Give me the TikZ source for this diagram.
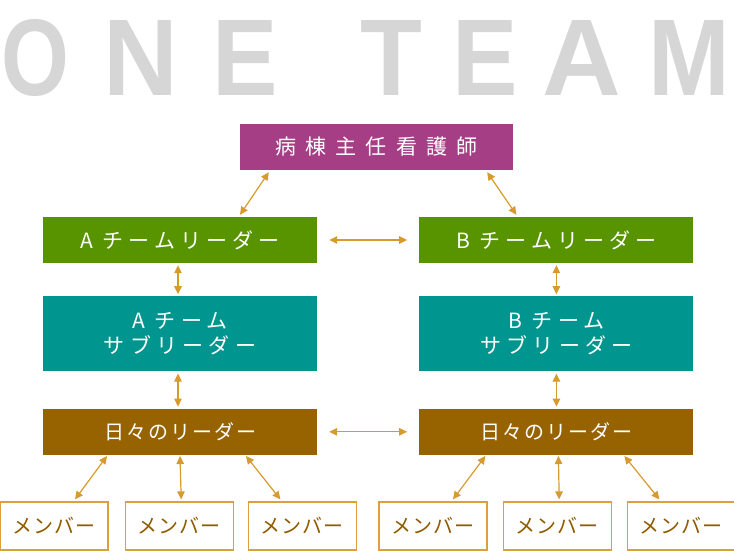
\documentclass[tikz,border=0pt]{standalone}
\usepackage{fontspec}
\usepackage{tikz}
\usetikzlibrary{arrows.meta, positioning}
\newfontfamily\jpfont{Noto Sans CJK JP}
\newfontfamily\titlefont{Liberation Sans Bold}
\definecolor{chiefcol}{HTML}{A53E84}
\definecolor{leadcol}{HTML}{589400}
\definecolor{subcol}{HTML}{00968F}
\definecolor{dailycol}{HTML}{966300}
\definecolor{linkcol}{HTML}{D69A2D}
\definecolor{membcol}{HTML}{DCA03C}
\definecolor{membtext}{HTML}{8F5C00}
\definecolor{titlegray}{HTML}{D6D6D6}

\begin{document}
\begin{tikzpicture}[x=1pt, y=-1pt,
    titlechar/.style={anchor=base, inner sep=0pt, text=titlegray, font=\titlefont\fontsize{109}{109}\selectfont},
    box/.style={rectangle, inner sep=0pt, minimum width=274pt, minimum height=46pt, align=center, text=white},
    member/.style={rectangle, draw=membcol, line width=1.2pt, fill=white, inner sep=0pt, minimum width=108pt, minimum height=48pt, text=membtext, font=\jpfont\fontsize{20}{22}\selectfont\addfontfeature{LetterSpace=5}},
    link/.style={{Triangle[length=8pt, width=7.5pt]}-{Triangle[length=8pt, width=7.5pt]}, draw=linkcol, line width=1.2pt}
]
\useasboundingbox (0,0) rectangle (734,550);

% title
\foreach \ch/\cx/\sx [count=\i] in {O/35/0.8, N/141/0.95, E/245/0.9, T/391/0.93, E/485.5/0.9, A/582/1.0, M/689/0.9}
  \node[titlechar] (title\i) at (\cx,95) {\scalebox{\sx}[1]{\ch}};

\node[box, fill=chiefcol, minimum width=273pt, font=\jpfont\fontsize{21}{22}\selectfont\addfontfeature{LetterSpace=44}] (chief) at (376.5,147) {病棟主任看護師};

\node[box, fill=leadcol, font=\jpfont\fontsize{21}{22}\selectfont\addfontfeature{LetterSpace=24}] (leadA) at (180,240) {A チームリーダー};
\node[box, fill=leadcol, font=\jpfont\fontsize{21}{22}\selectfont\addfontfeature{LetterSpace=24}, right=102pt of leadA] (leadB) {B チームリーダー};

\node[box, fill=subcol, minimum height=75pt, font=\jpfont\fontsize{21}{25}\selectfont\addfontfeature{LetterSpace=25}, below=33pt of leadA] (subA) {A チーム\\サブリーダー};
\node[box, fill=subcol, minimum height=75pt, font=\jpfont\fontsize{21}{25}\selectfont\addfontfeature{LetterSpace=25}, right=102pt of subA] (subB) {B チーム\\サブリーダー};

\node[box, fill=dailycol, font=\jpfont\fontsize{20}{22}\selectfont\addfontfeature{LetterSpace=10}, below=37pt of subA] (dailyA) {日々のリーダー};
\node[box, fill=dailycol, font=\jpfont\fontsize{20}{22}\selectfont\addfontfeature{LetterSpace=10}, right=102pt of dailyA] (dailyB) {日々のリーダー};

\node[member] (memA1) at (54,526) {メンバー};
\node[member, right=16pt of memA1] (memA2) {メンバー};
\node[member, right=14pt of memA2] (memA3) {メンバー};
\node[member] (memB1) at (433,526) {メンバー};
\node[member, right=15pt of memB1] (memB2) {メンバー};
\node[member, right=15pt of memB2] (memB3) {メンバー};

% links
\draw[link] ([xshift=29pt, yshift=-2pt]chief.south west) -- ([xshift=60pt, yshift=2pt]leadA.north);
\draw[link] ([xshift=-26pt, yshift=-2pt]chief.south east) -- ([xshift=-40pt, yshift=2pt]leadB.north);
\draw[link] ([xshift=12pt]leadA.east) -- ([xshift=-12pt]leadB.west);
\draw[link] ([xshift=12pt]dailyA.east) -- ([xshift=-12pt]dailyB.west);
\draw[link] ([xshift=-2pt, yshift=-2pt]leadA.south) -- ([xshift=-2pt, yshift=2pt]subA.north);
\draw[link] ([xshift=-2pt, yshift=-2pt]subA.south) -- ([xshift=-2pt, yshift=2pt]dailyA.north);
\draw[link] ([yshift=-2pt]leadB.south) -- ([yshift=2pt]subB.north);
\draw[link] ([yshift=-2pt]subB.south) -- ([yshift=2pt]dailyB.north);

\draw[link] ([xshift=-73pt, yshift=-1pt]dailyA.south) -- ([xshift=21pt, yshift=2pt]memA1.north);
\draw[link] ([yshift=-1pt]dailyA.south) -- ([xshift=2pt, yshift=2pt]memA2.north);
\draw[link] ([xshift=66pt, yshift=-1pt]dailyA.south) -- ([xshift=-22pt, yshift=2pt]memA3.north);
\draw[link] ([xshift=-71pt, yshift=-1pt]dailyB.south) -- ([xshift=20pt, yshift=2pt]memB1.north);
\draw[link] ([xshift=2pt, yshift=-1pt]dailyB.south) -- ([xshift=2pt, yshift=2pt]memB2.north);
\draw[link] ([xshift=68pt, yshift=-1pt]dailyB.south) -- ([xshift=-22pt, yshift=2pt]memB3.north);

\end{tikzpicture}
\end{document}
